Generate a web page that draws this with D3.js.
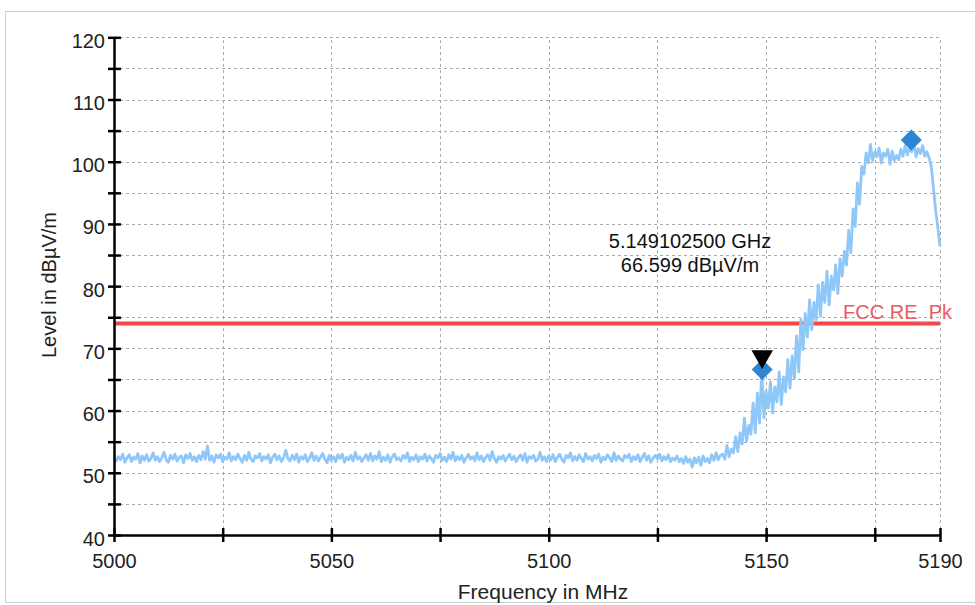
<!DOCTYPE html>
<html>
<head>
<meta charset="utf-8">
<script src="https://cdn.jsdelivr.net/npm/d3@7"></script>
<style>
  body { margin: 0; background: #fff; }
  svg { display: block; font-family: "Liberation Sans", Arial, sans-serif; }
</style>
</head>
<body>
<div id="chart"></div>
<script>
// sweep: 5000 MHz .. 5190 MHz, one reading every 0.5 MHz
var sweepStart = 5000;
var sweepStep = 0.5;

// 5000 - 5139.5 MHz, noise floor
var levelsFloor = [
  52.8, 51.9, 52.6, 52.1, 53.0, 51.7, 52.4, 52.9, 51.8, 52.5, 52.2, 53.1, 51.6, 52.7, 52.0, 52.9, 51.9, 52.3, 53.2, 52.0,
  52.6, 51.8, 52.4, 53.3, 52.1, 51.7, 52.8, 52.2, 53.0, 51.9, 52.5, 52.7, 51.6, 52.9, 52.3, 53.1, 52.0, 52.6, 51.8, 52.8,
  52.1, 53.4, 52.2, 54.3, 52.0, 52.7, 51.7, 52.9, 52.4, 53.0, 51.8, 52.5, 52.2, 53.2, 51.9, 52.6, 52.1, 53.0, 52.3, 51.7,
  52.8, 52.0, 53.3, 52.2, 51.8, 52.7, 52.4, 53.1, 51.9, 52.6, 52.2, 52.9, 51.6, 52.5, 53.0, 52.1, 52.7, 51.8, 52.4, 53.6,
  52.3, 51.9, 52.8, 52.1, 53.0, 51.7, 52.6, 52.2, 52.9, 51.8, 52.4, 53.2, 52.0, 52.7, 51.9, 52.5, 53.1, 52.2, 51.6, 52.8,
  52.0, 52.6, 51.8, 52.9, 52.3, 53.0, 51.7, 52.5, 52.1, 52.8, 51.9, 53.3, 52.2, 52.6, 51.8, 52.4, 52.9, 52.0, 53.1, 51.9,
  52.7, 52.2, 53.4, 51.8, 52.5, 52.0, 52.9, 51.7, 52.6, 53.0, 52.1, 52.4, 51.9, 52.8, 52.3, 53.2, 51.8, 52.5, 52.1, 52.9,
  51.8, 52.6, 52.2, 53.0, 51.9, 52.7, 52.3, 51.7, 52.8, 52.4, 53.1, 52.0, 52.5, 51.8, 52.9, 52.2, 53.3, 51.9, 52.6, 52.1,
  52.8, 51.7, 52.4, 53.0, 52.2, 52.6, 51.9, 53.2, 52.1, 52.7, 51.8, 52.5, 52.9, 52.0, 53.4, 52.3, 51.7, 52.6, 52.2, 52.8,
  51.9, 52.5, 53.0, 52.1, 52.7, 51.8, 52.4, 52.9, 52.0, 53.1, 51.7, 52.6, 52.3, 52.8, 51.9, 52.2, 53.3, 52.0, 52.6, 51.8,
  52.7, 52.1, 52.9, 51.8, 52.5, 53.0, 52.2, 51.7, 52.8, 52.4, 53.2, 51.9, 52.6, 52.0, 52.9, 52.3, 51.8, 53.1, 52.2, 52.6,
  51.9, 52.8, 52.3, 53.0, 51.7, 52.5, 52.1, 52.9, 52.4, 51.8, 53.2, 52.0, 52.7, 52.2, 51.9, 52.8, 52.4, 53.0, 51.8, 52.6,
  52.1, 52.9, 51.8, 52.5, 53.1, 52.0, 52.7, 51.7, 52.4, 52.8, 52.2, 53.0, 51.9, 52.6, 52.1, 52.9, 51.8, 52.4, 52.0, 52.7,
  51.8, 52.3, 51.5, 52.6, 51.7, 52.2, 50.9, 52.4, 51.6, 52.5, 51.2, 52.7, 51.8, 52.3, 51.6, 52.9, 52.0, 53.2, 52.1, 52.8
];

// 5140 - 5190 MHz, band edge and carrier
var levelsEdge = [
  53.0, 52.2, 54.4, 52.6, 53.8, 53.2, 55.8, 53.4, 56.4, 54.6,
  58.8, 55.0, 57.6, 56.2, 61.2, 56.4, 62.8, 58.0, 66.6, 58.8,
  63.2, 60.4, 64.6, 59.6, 63.8, 61.4, 66.2, 61.0, 65.4, 63.0,
  68.2, 63.6, 68.8, 65.2, 72.0, 66.2, 74.6, 69.8, 75.6, 71.8,
  77.8, 73.0, 77.4, 74.6, 80.2, 75.2, 80.6, 77.4, 82.4, 77.0,
  81.6, 79.4, 83.4, 78.8, 84.4, 81.6, 85.6, 83.4, 89.0, 85.4,
  92.4, 89.6, 96.6, 93.2, 99.2, 98.0, 101.4, 99.8, 102.8, 100.2,
  101.6, 100.8, 102.2, 99.8, 101.4, 100.9, 102.0, 99.6, 101.7, 100.2,
  101.0, 100.3, 102.0, 100.9, 102.6, 101.1, 102.3, 101.6, 103.0, 100.8,
  102.1, 101.3, 102.6, 100.9, 101.6, 100.6, 99.2, 95.8, 92.2, 89.4,
  86.4
];

var limitLevel = 74;
var limitName = "FCC RE_Pk";

var markerFreq = 5149.1025;
var markerLevel = 66.599;
var peakFreq = 5183.4;
var peakLevel = 103.5;

var xTicks = [5000, 5025, 5050, 5075, 5100, 5125, 5150, 5175, 5190];
var xLabels = [5000, 5050, 5100, 5150, 5190];
var yTicks = [40, 45, 50, 55, 60, 65, 70, 75, 80, 85, 90, 95, 100, 105, 110, 115, 120];
var yLabels = [40, 50, 60, 70, 80, 90, 100, 110, 120];

var width = 975, height = 605;

var trace = levelsFloor.concat(levelsEdge).map(function(v, i) {
  return { f: sweepStart + i * sweepStep, v: v };
});

var svg = d3.select("#chart").append("svg")
  .attr("width", width)
  .attr("height", height);

// outer frame
svg.append("rect")
  .attr("x", 5.5).attr("y", 11.5)
  .attr("width", 980).attr("height", 591)
  .attr("fill", "none")
  .attr("stroke", "#cdcdcd");

var x = d3.scaleLinear().domain([5000, 5190]).range([114, 940]);
var y = d3.scaleLinear().domain([40, 120]).range([535, 37.3]);

// grid
var grid = svg.append("g")
  .attr("stroke", "#aaaaaa")
  .attr("stroke-width", 1)
  .attr("stroke-dasharray", "3,3");

grid.selectAll(".hg").data(yTicks.filter(function(d) { return d > 40; }))
  .enter().append("line")
  .attr("x1", x(5000)).attr("x2", x(5190))
  .attr("y1", function(d) { return Math.round(y(d)) + 0.5; })
  .attr("y2", function(d) { return Math.round(y(d)) + 0.5; });

grid.selectAll(".vg").data(xTicks.filter(function(d) { return d > 5000; }))
  .enter().append("line")
  .attr("y1", y(40)).attr("y2", y(120))
  .attr("x1", function(d) { return Math.round(x(d)) + 0.5; })
  .attr("x2", function(d) { return Math.round(x(d)) + 0.5; });

// limit line
svg.append("line")
  .attr("x1", x(5000)).attr("x2", x(5190))
  .attr("y1", y(limitLevel)).attr("y2", y(limitLevel))
  .attr("stroke", "#f0474b")
  .attr("stroke-width", 4);

// measured trace
var line = d3.line()
  .x(function(d) { return x(d.f); })
  .y(function(d) { return y(d.v); });

svg.append("path")
  .datum(trace)
  .attr("d", line)
  .attr("fill", "none")
  .attr("stroke", "#8fc7f9")
  .attr("stroke-width", 2.8)
  .attr("stroke-linejoin", "round");

svg.append("text")
  .attr("x", x(5190) + 12)
  .attr("y", y(limitLevel) - 4)
  .attr("text-anchor", "end")
  .attr("font-size", 20)
  .attr("fill", "#ea5a60")
  .text(limitName);

// axes
var xAxis = d3.axisBottom(x)
  .tickValues(xTicks)
  .tickSizeInner(7)
  .tickSizeOuter(0)
  .tickPadding(12)
  .tickFormat(function(d) { return xLabels.indexOf(d) >= 0 ? d : ""; });

var yAxis = d3.axisLeft(y)
  .tickValues(yTicks)
  .tickSizeInner(6)
  .tickSizeOuter(0)
  .tickPadding(3)
  .tickFormat(function(d) { return yLabels.indexOf(d) >= 0 ? d : ""; });

var gx = svg.append("g")
  .attr("transform", "translate(0," + y(40) + ")")
  .call(xAxis);
gx.selectAll(".tick line").attr("y1", -7);

var gy = svg.append("g")
  .attr("transform", "translate(" + x(5000) + ",0)")
  .call(yAxis);
gy.selectAll(".tick line").attr("x1", 7);
gy.selectAll(".tick text").attr("dy", "0.5em");

[gx, gy].forEach(function(g) {
  g.select(".domain").attr("stroke", "#000").attr("stroke-width", 2.5);
  g.selectAll(".tick line").attr("stroke", "#000").attr("stroke-width", 2.5);
  g.selectAll(".tick text")
    .attr("font-family", "Liberation Sans, Arial, sans-serif")
    .attr("font-size", 20)
    .attr("fill", "#222");
});

svg.append("text")
  .attr("x", 543).attr("y", 599)
  .attr("text-anchor", "middle")
  .attr("font-size", 21)
  .attr("fill", "#222")
  .text("Frequency in MHz");

svg.append("text")
  .attr("transform", "translate(56,285) rotate(-90)")
  .attr("text-anchor", "middle")
  .attr("font-size", 20)
  .attr("fill", "#222")
  .text("Level in dBµV/m");

// markers
var diamond = d3.symbol().type(d3.symbolSquare).size(220);

svg.append("path")
  .attr("d", diamond)
  .attr("transform", "translate(" + x(peakFreq) + "," + y(peakLevel) + ") rotate(45)")
  .attr("fill", "#2d86d1");

svg.append("path")
  .attr("d", diamond)
  .attr("transform", "translate(" + x(markerFreq) + "," + y(markerLevel) + ") rotate(45)")
  .attr("fill", "#2d86d1");

svg.append("path")
  .attr("d", d3.symbol().type(d3.symbolTriangle).size(200))
  .attr("transform", "translate(" + x(markerFreq) + "," + (y(markerLevel) - 13) + ") rotate(180)")
  .attr("fill", "#000");

var note = svg.append("g")
  .attr("text-anchor", "middle")
  .attr("font-size", 20)
  .attr("fill", "#111");
note.append("text")
  .attr("x", 690).attr("y", 248)
  .text((markerFreq / 1000).toFixed(9) + " GHz");
note.append("text")
  .attr("x", 690).attr("y", 272)
  .text(markerLevel.toFixed(3) + " dBµV/m");
</script>
</body>
</html>
